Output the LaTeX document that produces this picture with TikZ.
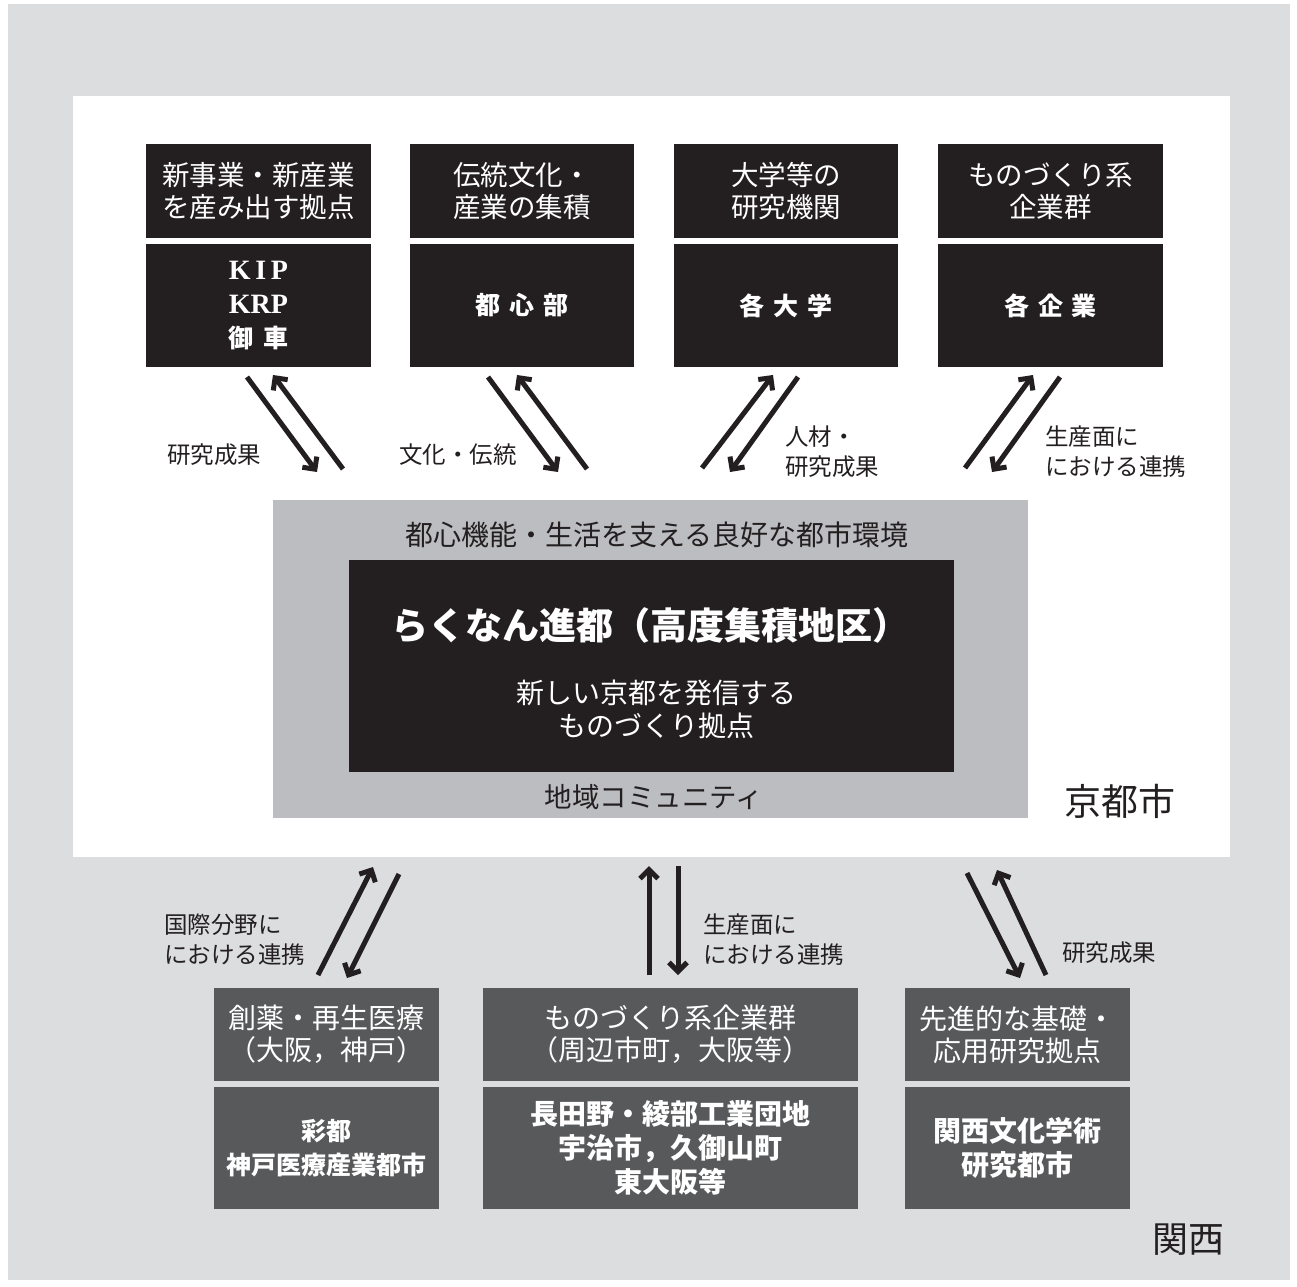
\documentclass[tikz,border=0pt]{standalone}
\usepackage{fontspec}
\setmainfont{Noto Sans CJK JP}
\newfontfamily\latinserif{Liberation Serif}
\usetikzlibrary{arrows.meta}
\definecolor{outergray}{HTML}{DCDDDF}
\definecolor{midgray}{HTML}{BCBDC0}
\definecolor{boxblack}{HTML}{231F20}
\definecolor{boxdark}{HTML}{58595B}
\begin{document}
\begin{tikzpicture}[x=1pt,y=-1pt,
  topbox/.style={fill=boxblack, text=white, minimum width=225, align=center, inner sep=0pt},
  botbox/.style={fill=boxdark, text=white, align=center, inner sep=0pt},
  hdrfont/.style={font=\fontsize{27.5}{32}\selectfont},
  bhdrfont/.style={font=\fontsize{28}{32}\selectfont},
  serfont/.style={font=\bfseries\fontsize{25}{34}\selectfont},
  bigserfont/.style={font=\bfseries\fontsize{28}{34}\selectfont},
  lbl/.style={font=\fontsize{23.5}{30}\selectfont, text=boxblack, inner sep=0pt},
  flow/.style={line width=5pt, draw=boxblack, -{Straight Barb[length=9pt,width=18pt]}}
]
\useasboundingbox (0,0) rectangle (1297,1286);
\fill[white] (0,0) rectangle (1297,1286);
\fill[outergray] (8,4) rectangle (1290,1280);
\fill[white] (73,96) rectangle (1230,857);

% top boxes
\node[topbox, hdrfont, minimum height=94] (h1) at (258.5,191) {新事業・新産業\\を産み出す拠点};
\node[topbox, serfont, minimum height=123] (l1) at (258.5,305.5) {{\latinserif\bfseries\fontsize{28}{34}\selectfont K\,I\,P}\\{\latinserif\bfseries\fontsize{28}{34}\selectfont KRP}\\御\hspace{0.4em}車};
\node[topbox, hdrfont, minimum height=94, minimum width=224] (h2) at (522,191) {伝統文化・\\産業の集積};
\node[topbox, serfont, minimum height=123, minimum width=224] (l2) at (522,305.5) {都\hspace{0.35em}心\hspace{0.35em}部};
\node[topbox, hdrfont, minimum height=94, minimum width=224] (h3) at (786,191) {大学等の\\研究機関};
\node[topbox, serfont, minimum height=123, minimum width=224] (l3) at (786,305.5) {各\hspace{0.35em}大\hspace{0.35em}学};
\node[topbox, hdrfont, minimum height=94] (h4) at (1050.5,191) {ものづくり系\\企業群};
\node[topbox, serfont, minimum height=123] (l4) at (1050.5,305.5) {各\hspace{0.35em}企\hspace{0.35em}業};

% central block
\node[fill=midgray, minimum width=755, minimum height=318, inner sep=0pt] (mid) at (650.5,659) {};
\node[fill=boxblack, minimum width=605, minimum height=212, inner sep=0pt] (core) at (651.5,666) {};
\node[font=\fontsize{28}{30}\selectfont, text=boxblack, inner sep=0pt] (midtop) at (657,535) {都心機能・生活を支える良好な都市環境};
\node[font=\fontsize{27.5}{30}\selectfont, text=boxblack, inner sep=0pt] (midbot) at (654,797) {地域コミュニティ};
\node[font=\bfseries\fontsize{37}{40}\selectfont, text=white, inner sep=0pt] (title) at (650,625) {らくなん進都（高度集積地区）};
\node[font=\fontsize{28}{33}\selectfont, text=white, align=center, inner sep=0pt] (sub) at (656,709) {新しい京都を発信する\\ものづくり拠点};
\node[font=\fontsize{37}{40}\selectfont, text=boxblack, inner sep=0pt] (kyoto) at (1120,801) {京都市};

% bottom boxes
\node[botbox, bhdrfont, minimum width=225, minimum height=93] (bh1) at (326,1034.5) {創薬・再生医療\\（大阪，神戸）};
\node[botbox, serfont, minimum width=225, minimum height=122] (bl1) at (326,1148) {彩都\\神戸医療産業都市};
\node[botbox, bhdrfont, minimum width=375, minimum height=93] (bh2) at (670.5,1034.5) {ものづくり系企業群\\（周辺市町，大阪等）};
\node[botbox, bigserfont, minimum width=375, minimum height=122] (bl2) at (670.5,1148) {長田野・綾部工業団地\\宇治市，久御山町\\東大阪等};
\node[botbox, bhdrfont, minimum width=225, minimum height=93] (bh3) at (1017.5,1034.5) {先進的な基礎・\\応用研究拠点};
\node[botbox, bigserfont, minimum width=225, minimum height=122] (bl3) at (1017.5,1148) {関西文化学術\\研究都市};
\node[font=\fontsize{36}{40}\selectfont, text=boxblack, inner sep=0pt] (kansai) at (1188,1240) {関西};

% arrow end points
\coordinate (a1s) at (247,377); \coordinate (a1e) at (317,472);
\coordinate (b1s) at (343,469); \coordinate (b1e) at (273,375);
\coordinate (a2s) at (488,377); \coordinate (a2e) at (558,472);
\coordinate (b2s) at (587,469); \coordinate (b2e) at (517,375);
\coordinate (a3s) at (702,468); \coordinate (a3e) at (773,375);
\coordinate (b3s) at (798,377); \coordinate (b3e) at (730,472);
\coordinate (a4s) at (965,468); \coordinate (a4e) at (1033,375);
\coordinate (b4s) at (1060,377); \coordinate (b4e) at (992,472);
\coordinate (c1s) at (318,975); \coordinate (c1e) at (373,867);
\coordinate (d1s) at (399,874); \coordinate (d1e) at (347,978);
\coordinate (c2s) at (649,975); \coordinate (c2e) at (649,866);
\coordinate (d2s) at (678,866); \coordinate (d2e) at (678,975);
\coordinate (c3s) at (967,873); \coordinate (c3e) at (1020,978);
\coordinate (d3s) at (1046,975); \coordinate (d3e) at (997,870);

\foreach \s/\e in {a1s/a1e,b1s/b1e,a2s/a2e,b2s/b2e,a3s/a3e,b3s/b3e,a4s/a4e,b4s/b4e,c1s/c1e,d1s/d1e,c2s/c2e,d2s/d2e,c3s/c3e,d3s/d3e}
  \draw[flow] (\s) -- (\e);

% labels
\node[lbl] (t1) at (214,455) {研究成果};
\node[lbl] (t2) at (458,455) {文化・伝統};
\node[lbl, anchor=west, align=left] (t3) at (785,452) {人材・\\研究成果};
\node[lbl, anchor=west, align=left] (t4) at (1045,452) {生産面に\\における連携};
\node[lbl, anchor=west, align=left] (t5) at (164,940) {国際分野に\\における連携};
\node[lbl, anchor=west, align=left] (t6) at (703,940) {生産面に\\における連携};
\node[lbl] (t7) at (1109,953) {研究成果};
\end{tikzpicture}
\end{document}
